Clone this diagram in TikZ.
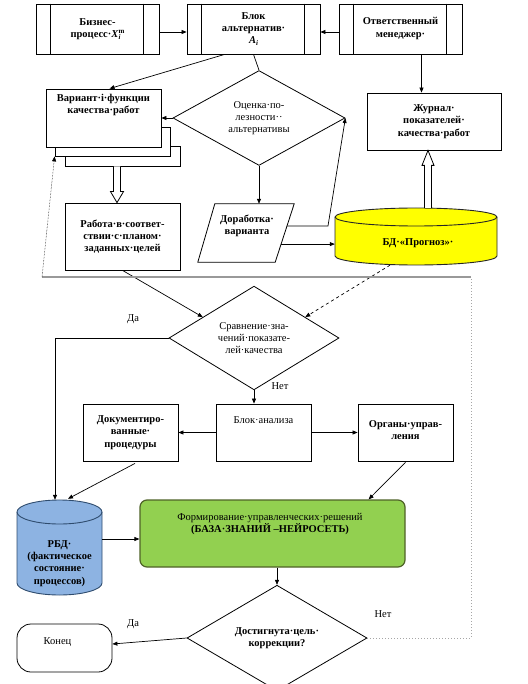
\documentclass[tikz,border=0pt]{standalone}
\usepackage{fontspec}
\setmainfont{Liberation Serif}
\usetikzlibrary{shapes.geometric,arrows.meta,calc}
\definecolor{grnf}{HTML}{92D050}
\definecolor{grnd}{HTML}{4F6228}
\definecolor{bluf}{HTML}{8DB3E2}
\definecolor{blud}{HTML}{3B5F8A}
\definecolor{yelf}{HTML}{FFFF00}
\newcommand{\fs}{\fontsize{10.5}{12.3}\selectfont}
\begin{document}
\begin{tikzpicture}[x=1pt,y=-1pt,
  every node/.style={font=\fs},
  box/.style={draw, line width=0.8pt, fill=white, inner sep=1pt, align=center},
  bf/.style={font=\fs\bfseries},
  dia/.style={diamond, draw, line width=0.8pt, fill=white, inner sep=0pt, align=center},
  txt/.style={inner sep=0pt, align=center},
  ln/.style={line width=0.7pt},
  arr/.style={ln, -{Triangle[length=5pt,width=4pt]}},
  hollow/.style={line width=0.8pt, fill=white},
  dotg/.style={line width=1pt, draw=gray!70, dotted},
  solg/.style={line width=1.2pt, draw=gray!80},
  dotarr/.style={line width=0.5pt, densely dotted, -{Triangle[length=5pt,width=4pt]}}
]
\useasboundingbox (0,0) rectangle (527,684);

% ---- top row
\node[box, bf, minimum width=123pt, minimum height=50pt] (bp) at (97.5,29)
  {Бизнес-\\процесс·\textit{X}\rlap{\raisebox{-2pt}{\scriptsize\textit{i}}}\raisebox{3.5pt}{\scriptsize m}};
\node[box, bf, minimum width=133pt, minimum height=50pt] (ba) at (253.5,29)
  {Блок\\альтернатив·\\\textit{A}\raisebox{-2pt}{\scriptsize\textit{i}}};
\node[box, bf, minimum width=123pt, minimum height=50pt] (om) at (400.5,29)
  {\raisebox{3pt}{Ответственный}\\\raisebox{3pt}{менеджер·}};
\foreach \b in {bp,ba,om}{
  \draw[line width=0.8pt] ($(\b.north west)+(15,0)$) -- ($(\b.south west)+(15,0)$);
  \draw[line width=0.8pt] ($(\b.north east)+(-16,0)$) -- ($(\b.south east)+(-16,0)$);
}

% ---- variant stack
\node[box, minimum width=115pt, minimum height=20pt] (s3) at (122.5,156) {};
\node[box, minimum width=115pt, minimum height=29pt] (s2) at (112.5,141.5) {};
\node[box, minimum width=115pt, minimum height=58pt] (var) at (103.5,118) {};
\node[txt, bf] (vart) at (103.5,105) {Вариант·i·функции\\качества·работ};

% ---- evaluation diamond
\node[dia, minimum width=172pt, minimum height=77pt] (ocen) at (259,118)
  {Оценка·по-\\лезности··\\альтернативы};

% ---- journal
\node[box, bf, minimum width=134pt, minimum height=57pt] (jur) at (434,121.5)
  {Журнал·\\показателей·\\качества·работ};

% ---- refinement parallelogram
\node[minimum width=96pt, minimum height=58pt, inner sep=0pt] (dor) at (246,233) {};
\coordinate (dTR) at (dor.north east);
\coordinate (dBR) at ($(dor.south east)+(-19,0)$);
\draw[line width=0.8pt] ($(dor.north west)+(17,0)$) -- (dTR) -- (dBR) -- (dor.south west) -- cycle;
\node[txt, bf] (dort) at (247,226) {Доработка·\\варианта};

% ---- DB forecast cylinder
\node[minimum width=162pt, minimum height=57pt, inner sep=0pt] (bd) at (416,236.5) {};
\draw[fill=yelf, draw=black!85, line width=0.9pt] (335,217) -- (335,256)
  arc[start angle=180, end angle=360, x radius=81pt, y radius=9pt] -- (497,217)
  arc[start angle=0, end angle=180, x radius=81pt, y radius=9pt] -- cycle;
\draw[draw=black!85, line width=0.9pt] (335,217) arc[start angle=180, end angle=360, x radius=81pt, y radius=9pt];
\node[txt, bf] (bdt) at (418,243) {БД·«Прогноз»·};

% ---- work box
\node[box, bf, minimum width=115pt, minimum height=67pt] (rab) at (122.5,236.5)
  {Работа·в·соответ-\\ствии·с·планом·\\заданных·целей};

% ---- comparison diamond
\node[dia, minimum width=170pt, minimum height=76pt] (srav) at (254,338)
  {Сравнение·зна-\\чений·показате-\\лей·качества};

% ---- analysis row
\node[box, bf, minimum width=95pt, minimum height=57pt] (dok) at (130.5,432.5)
  {Документиро-\\ванные·\\процедуры};
\node[box, minimum width=95pt, minimum height=57pt] (ban) at (263.5,432.5)
  {\raisebox{9pt}[0pt][0pt]{Блок·анализа}};
\node[box, bf, minimum width=95pt, minimum height=57pt] (org) at (405.5,432.5)
  {\raisebox{5pt}{Органы·управ-}\\\raisebox{5pt}{ления}};

% ---- RBD cylinder
\node[minimum width=85pt, minimum height=95pt, inner sep=0pt] (rbd) at (59.5,547.5) {};
\draw[fill=bluf, draw=blud!80!black, line width=0.9pt] (17,512) -- (17,583)
  arc[start angle=180, end angle=360, x radius=42.5pt, y radius=12pt] -- (102,512)
  arc[start angle=0, end angle=180, x radius=42.5pt, y radius=12pt] -- cycle;
\draw[draw=blud!80!black, line width=0.9pt] (17,512) arc[start angle=180, end angle=360, x radius=42.5pt, y radius=12pt];
\node[txt, bf] (rbdt) at (59.5,563.5) {РБД·\\(фактическое\\состояние·\\процессов)};

% ---- decision forming box
\node[draw=grnd, fill=grnf, line width=1.2pt, rounded corners=7pt,
  minimum width=265pt, minimum height=67pt] (grn) at (272.5,533.5) {};
\node[txt] (grnt) at (270,524) {Формирование·управленческих·решений\\\textbf{(БАЗА·ЗНАНИЙ –НЕЙРОСЕТЬ)}};

% ---- final decision and end
\node[dia, bf, minimum width=180pt, minimum height=67pt] (dost) at (277,638)
  {Достигнута·цель·\\коррекции?};
\node[box, rounded corners=14pt, minimum width=95pt, minimum height=48pt] (kon) at (64.5,648)
  {\raisebox{4pt}[0pt][0pt]{Конец\hspace{14pt}}};

% ---- labels
\node[txt] (da1) at (133,319) {Да};
\node[txt] (net1) at (280,386) {Нет};
\node[txt] (da2) at (133,624) {Да};
\node[txt] (net2) at (383,614) {Нет};

% ---- connectors
\draw[arr] ($(bp.east)+(0,3)$) -- ($(ba.west)+(0,3)$);
\draw[arr] ($(om.west)+(0,3)$) -- ($(ba.east)+(0,3)$);
\draw[arr] ($(ba.south west)+(38,0)$) -- ($(var.north)+(6,0)$);
\draw[ln] (ba.south) -- (ocen.north);
\draw[arr] ($(om.south)+(21,0)$) coordinate (o1) -- (o1 |- jur.north);
\draw[arr] (ocen.west) -- (var.east);
\draw[arr] (ocen.south) -- (ocen.south |- dor.north);
\draw[arr] ($(dTR)!0.38!(dBR)$) -- ++(41,0) -- (ocen.east);
\draw[arr] ($(dTR)!0.69!(dBR)$) coordinate (d2) -- (d2 -| bd.west);

% hollow arrows
\coordinate (h1s) at ($(s3.south)+(-5.5,0)$);
\coordinate (h1e) at (h1s |- rab.north);
\draw[hollow] ($(h1s)+(-3.5,0)$) -- ($(h1e)+(-3.5,-11)$) -- ($(h1e)+(-6.5,-11)$) -- (h1e)
  -- ($(h1e)+(6.5,-11)$) -- ($(h1e)+(3.5,-11)$) -- ($(h1s)+(3.5,0)$);
\coordinate (h2s) at ($(bd.north)+(12,0)$);
\coordinate (h2e) at (h2s |- jur.south);
\draw[hollow] ($(h2s)+(-3.5,0)$) -- ($(h2e)+(-3.5,15)$) -- ($(h2e)+(-6,15)$) -- (h2e)
  -- ($(h2e)+(6,15)$) -- ($(h2e)+(3.5,15)$) -- ($(h2s)+(3.5,0)$);

\draw[arr] (rab.south) -- ($(srav.west)!0.4!(srav.north)$);
\draw[ln, dashed, -{Triangle[length=5pt,width=4pt]}] ($(bd.south)+(-26,0)$) -- ($(srav.north)!0.6!(srav.east)$);
\draw[arr] (srav.west) -| ($(rbd.north)+(-4.5,0)$);
\draw[arr] (srav.south) -- (srav.south |- ban.north);
\draw[arr] (ban.west) -- (dok.east);
\draw[arr] (ban.east) -- (org.west);
\draw[arr] ($(dok.south)+(4.5,2)$) -- ($(rbd.north)+(8.5,-1)$);
\draw[arr] ($(org.south)+(0,1)$) -- ($(grn.north east)+(-37,0)$);
\draw[arr] ($(rbd.east)+(0,-8.5)$) -- ($(grn.west)+(0,5.5)$);
\draw[arr] (grn.south -| dost.north) -- (dost.north);
\draw[arr] (dost.west) -- ($(kon.east)+(0,-4)$);

% feedback loop
\coordinate (Lr) at (471,277);
\coordinate (Ll) at (42,277);
\draw[dotg] (dost.east) -| (Lr);
\draw[solg] (Lr) -- (Ll);
\draw[dotarr] (Ll) -- (s2.south west);
\end{tikzpicture}
\end{document}
